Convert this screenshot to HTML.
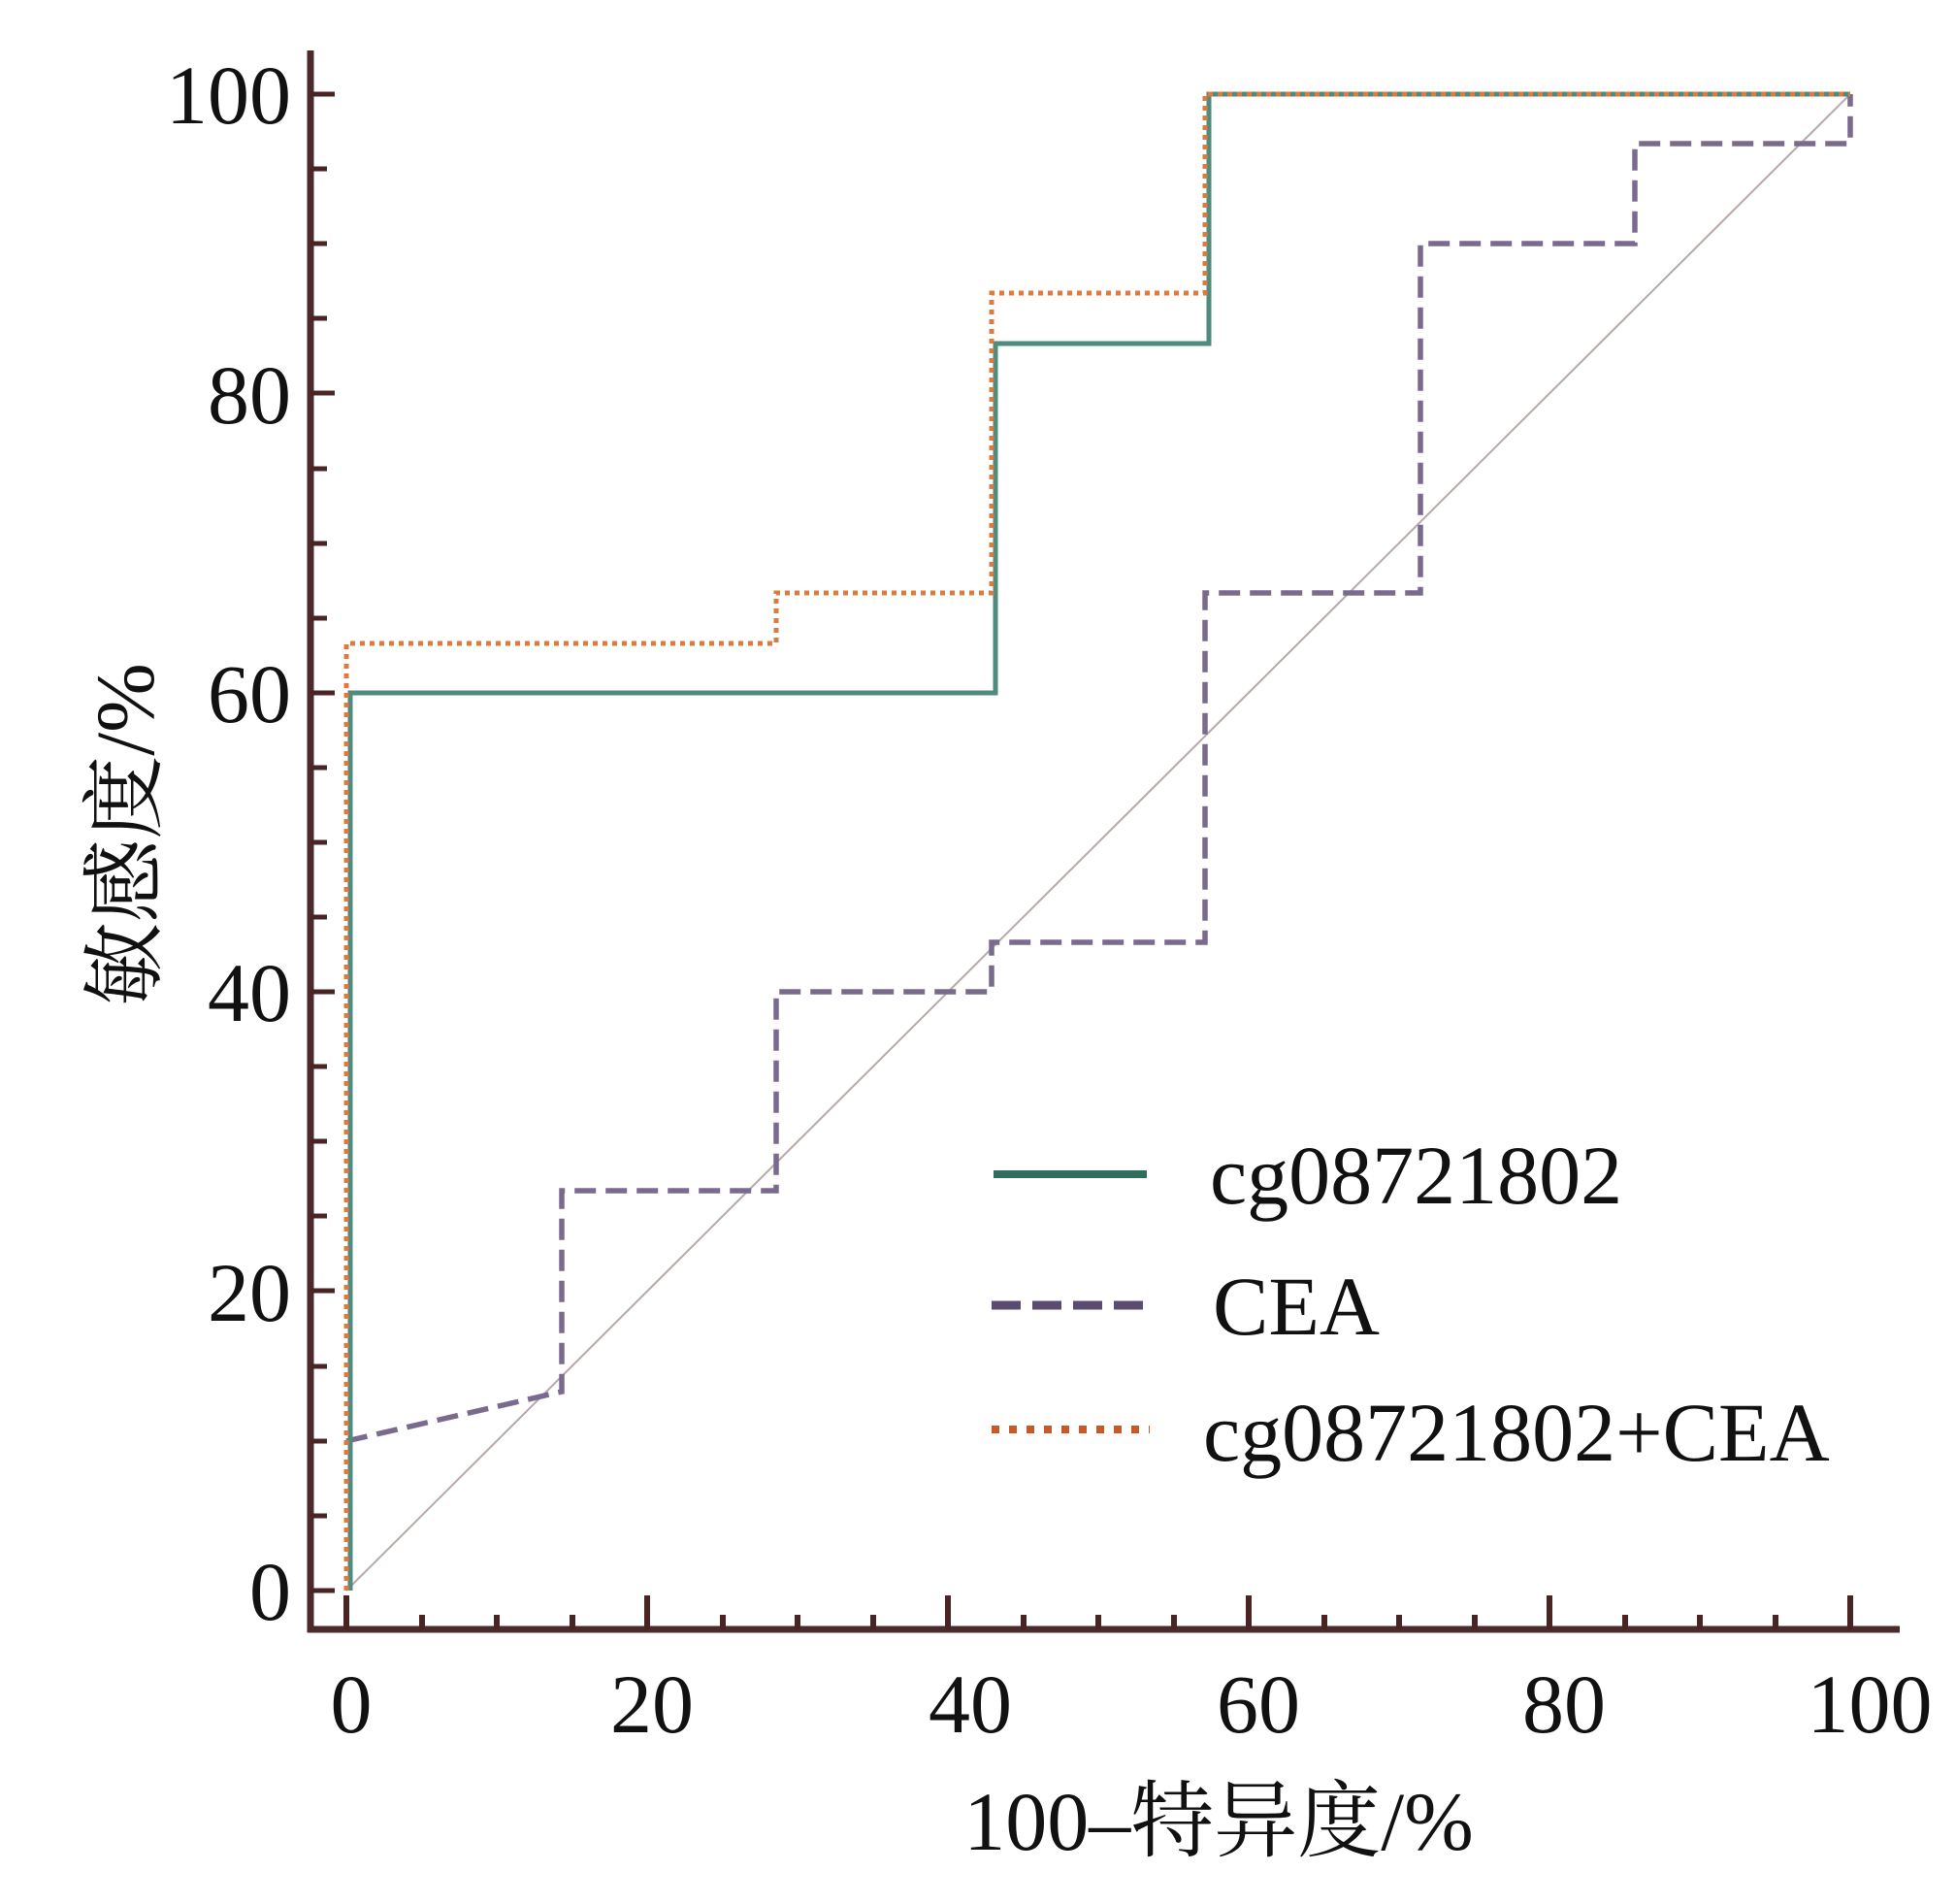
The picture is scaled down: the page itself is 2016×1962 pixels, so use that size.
<!DOCTYPE html>
<html><head><meta charset="utf-8"><style>
html,body{margin:0;padding:0;background:#fff;}
svg{display:block;}
.l{font-family:"Liberation Serif",serif;fill:#111;}
.c{font-family:"Liberation Serif","Noto Serif CJK SC",serif;fill:#111;}
</style></head><body>
<svg width="2016" height="1962" viewBox="0 0 2016 1962" xmlns="http://www.w3.org/2000/svg">
<line x1="357" y1="1639" x2="1907" y2="97" stroke="#b8a8a8" stroke-width="2"/>
<polyline fill="none" stroke="#7a6a8e" stroke-width="5.5" stroke-dasharray="22,10" points="357,1485 579,1434 579,1227 800,1227 800,1022 1022,1022 1022,971 1242,971 1242,611 1464,611 1464,251 1685,251 1685,148 1907,148 1907,97"/>
<polyline fill="none" stroke="#4f8c80" stroke-width="5" points="361,1639 361,714 1026,714 1026,354 1246,354 1246,97 1907,97"/>
<polyline fill="none" stroke="#e07a3c" stroke-width="5" stroke-dasharray="5,5" points="357,1639 357,663 800,663 800,611 1022,611 1022,302 1242,302 1242,97 1907,97"/>
<line x1="320" y1="52" x2="320" y2="1682" stroke="#4a2a2a" stroke-width="7"/>
<line x1="317" y1="1679" x2="1958" y2="1679" stroke="#4a2a2a" stroke-width="7"/>
<g stroke="#4a2424" stroke-width="5">
<line x1="320" y1="1639" x2="345" y2="1639"/><line x1="320" y1="1562" x2="337" y2="1562"/><line x1="320" y1="1485" x2="337" y2="1485"/><line x1="320" y1="1408" x2="337" y2="1408"/><line x1="320" y1="1330" x2="345" y2="1330"/><line x1="320" y1="1253" x2="337" y2="1253"/><line x1="320" y1="1176" x2="337" y2="1176"/><line x1="320" y1="1099" x2="337" y2="1099"/><line x1="320" y1="1022" x2="345" y2="1022"/><line x1="320" y1="945" x2="337" y2="945"/><line x1="320" y1="868" x2="337" y2="868"/><line x1="320" y1="791" x2="337" y2="791"/><line x1="320" y1="714" x2="345" y2="714"/><line x1="320" y1="637" x2="337" y2="637"/><line x1="320" y1="560" x2="337" y2="560"/><line x1="320" y1="483" x2="337" y2="483"/><line x1="320" y1="405" x2="345" y2="405"/><line x1="320" y1="328" x2="337" y2="328"/><line x1="320" y1="251" x2="337" y2="251"/><line x1="320" y1="174" x2="337" y2="174"/><line x1="320" y1="97" x2="345" y2="97"/>
</g>
<g stroke="#4a2424" stroke-width="6">
<line x1="357" y1="1679" x2="357" y2="1644"/><line x1="435" y1="1679" x2="435" y2="1664"/><line x1="512" y1="1679" x2="512" y2="1664"/><line x1="590" y1="1679" x2="590" y2="1664"/><line x1="667" y1="1679" x2="667" y2="1644"/><line x1="745" y1="1679" x2="745" y2="1664"/><line x1="822" y1="1679" x2="822" y2="1664"/><line x1="900" y1="1679" x2="900" y2="1664"/><line x1="977" y1="1679" x2="977" y2="1644"/><line x1="1055" y1="1679" x2="1055" y2="1664"/><line x1="1132" y1="1679" x2="1132" y2="1664"/><line x1="1210" y1="1679" x2="1210" y2="1664"/><line x1="1287" y1="1679" x2="1287" y2="1644"/><line x1="1365" y1="1679" x2="1365" y2="1664"/><line x1="1442" y1="1679" x2="1442" y2="1664"/><line x1="1520" y1="1679" x2="1520" y2="1664"/><line x1="1597" y1="1679" x2="1597" y2="1644"/><line x1="1675" y1="1679" x2="1675" y2="1664"/><line x1="1752" y1="1679" x2="1752" y2="1664"/><line x1="1830" y1="1679" x2="1830" y2="1664"/><line x1="1907" y1="1679" x2="1907" y2="1644"/>
</g>
<g class="l" font-family="Liberation Serif, serif" font-size="86" text-anchor="end">
<text x="300" y="1669">0</text><text x="300" y="1361">20</text><text x="300" y="1052">40</text><text x="300" y="744">60</text><text x="300" y="436">80</text><text x="300" y="127">100</text>
</g>
<g class="l" font-family="Liberation Serif, serif" font-size="86" text-anchor="middle">
<text x="362" y="1785">0</text><text x="672" y="1785">20</text><text x="1000" y="1785">40</text><text x="1297" y="1785">60</text><text x="1612" y="1785">80</text><text x="1927" y="1785">100</text>
</g>
<text class="c" x="1256" y="1906" font-size="86" text-anchor="middle">100–特异度/%</text>
<text class="c" transform="translate(158,860) rotate(-90)" font-size="86" text-anchor="middle">敏感度/%</text>
<line x1="1024" y1="1210" x2="1182" y2="1210" stroke="#2f6e5c" stroke-width="8"/>
<line x1="1022" y1="1345" x2="1185" y2="1345" stroke="#5a4c70" stroke-width="9" stroke-dasharray="30,12"/>
<line x1="1022" y1="1473" x2="1185" y2="1473" stroke="#c85a28" stroke-width="8" stroke-dasharray="8,10"/>
<g class="l" font-family="Liberation Serif, serif" font-size="86">
<text x="1247" y="1240">cg08721802</text>
<text x="1250" y="1375">CEA</text>
<text x="1240" y="1505">cg08721802+CEA</text>
</g>
</svg>
</body></html>
